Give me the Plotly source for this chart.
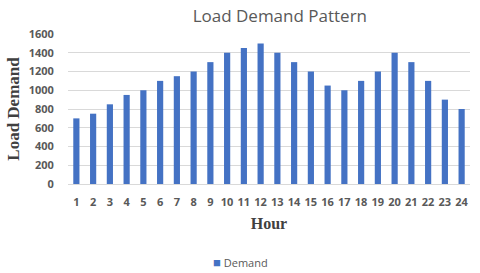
import plotly.graph_objects as go

hours = [str(h) for h in range(1, 25)]
demand = [700, 750, 850, 950, 1000, 1100, 1150, 1200, 1300, 1400, 1450, 1500,
          1400, 1300, 1200, 1050, 1000, 1100, 1200, 1400, 1300, 1100, 900, 800]
y_ticks = [0, 200, 400, 600, 800, 1000, 1200, 1400, 1600]
series_name = "Demand"
bar_color = "#4472C4"

fig = go.Figure()
fig.add_trace(go.Bar(x=hours, y=demand, name=series_name, marker_color=bar_color,
                     marker_line_width=0, showlegend=False))

fig.add_annotation(
    text=f"<span style='color:{bar_color};font-size:13px'>■</span> {series_name}",
    xref="paper", yref="paper", x=(240 - 68) / 402, y=-(262 - 184) / 150,
    xanchor="center", yanchor="middle", showarrow=False,
    font=dict(family="Open Sans", size=11, color="#595959"),
)

fig.update_layout(
    width=480, height=273,
    margin=dict(l=68, r=10, t=34, b=89),
    paper_bgcolor="white", plot_bgcolor="white",
    bargap=0.63,
    title=dict(text="Load Demand Pattern", x=0.583, xanchor="center", y=0.94, yanchor="middle",
               font=dict(family="Open Sans", size=17, color="#595959")),
    showlegend=False,
    xaxis=dict(
        automargin=False,
        tickfont=dict(family="Open Sans", size=11, color="#595959", weight="bold"),
        showgrid=False, showline=True, linecolor="#d9d9d9",
        ticks="outside", ticklen=8, tickcolor="rgba(255,255,255,0)",
        title=dict(text="<b>Hour</b>", font=dict(family="Liberation Serif", size=16, color="#404040"),
                   standoff=9),
    ),
    yaxis=dict(
        automargin=False,
        range=[0, 1600], tickvals=y_ticks,
        tickfont=dict(family="Open Sans", size=11, color="#595959", weight="bold"),
        showgrid=True, gridcolor="#d9d9d9", zeroline=False,
        ticks="outside", ticklen=11, tickcolor="rgba(255,255,255,0)",
        title=dict(text="<b>Load Demand</b>", font=dict(family="Liberation Serif", size=17, color="#404040"),
                   standoff=4),
    ),
)

fig.write_html("out.html", config={"displayModeBar": False},
               post_script="document.body.style.margin='0';")
